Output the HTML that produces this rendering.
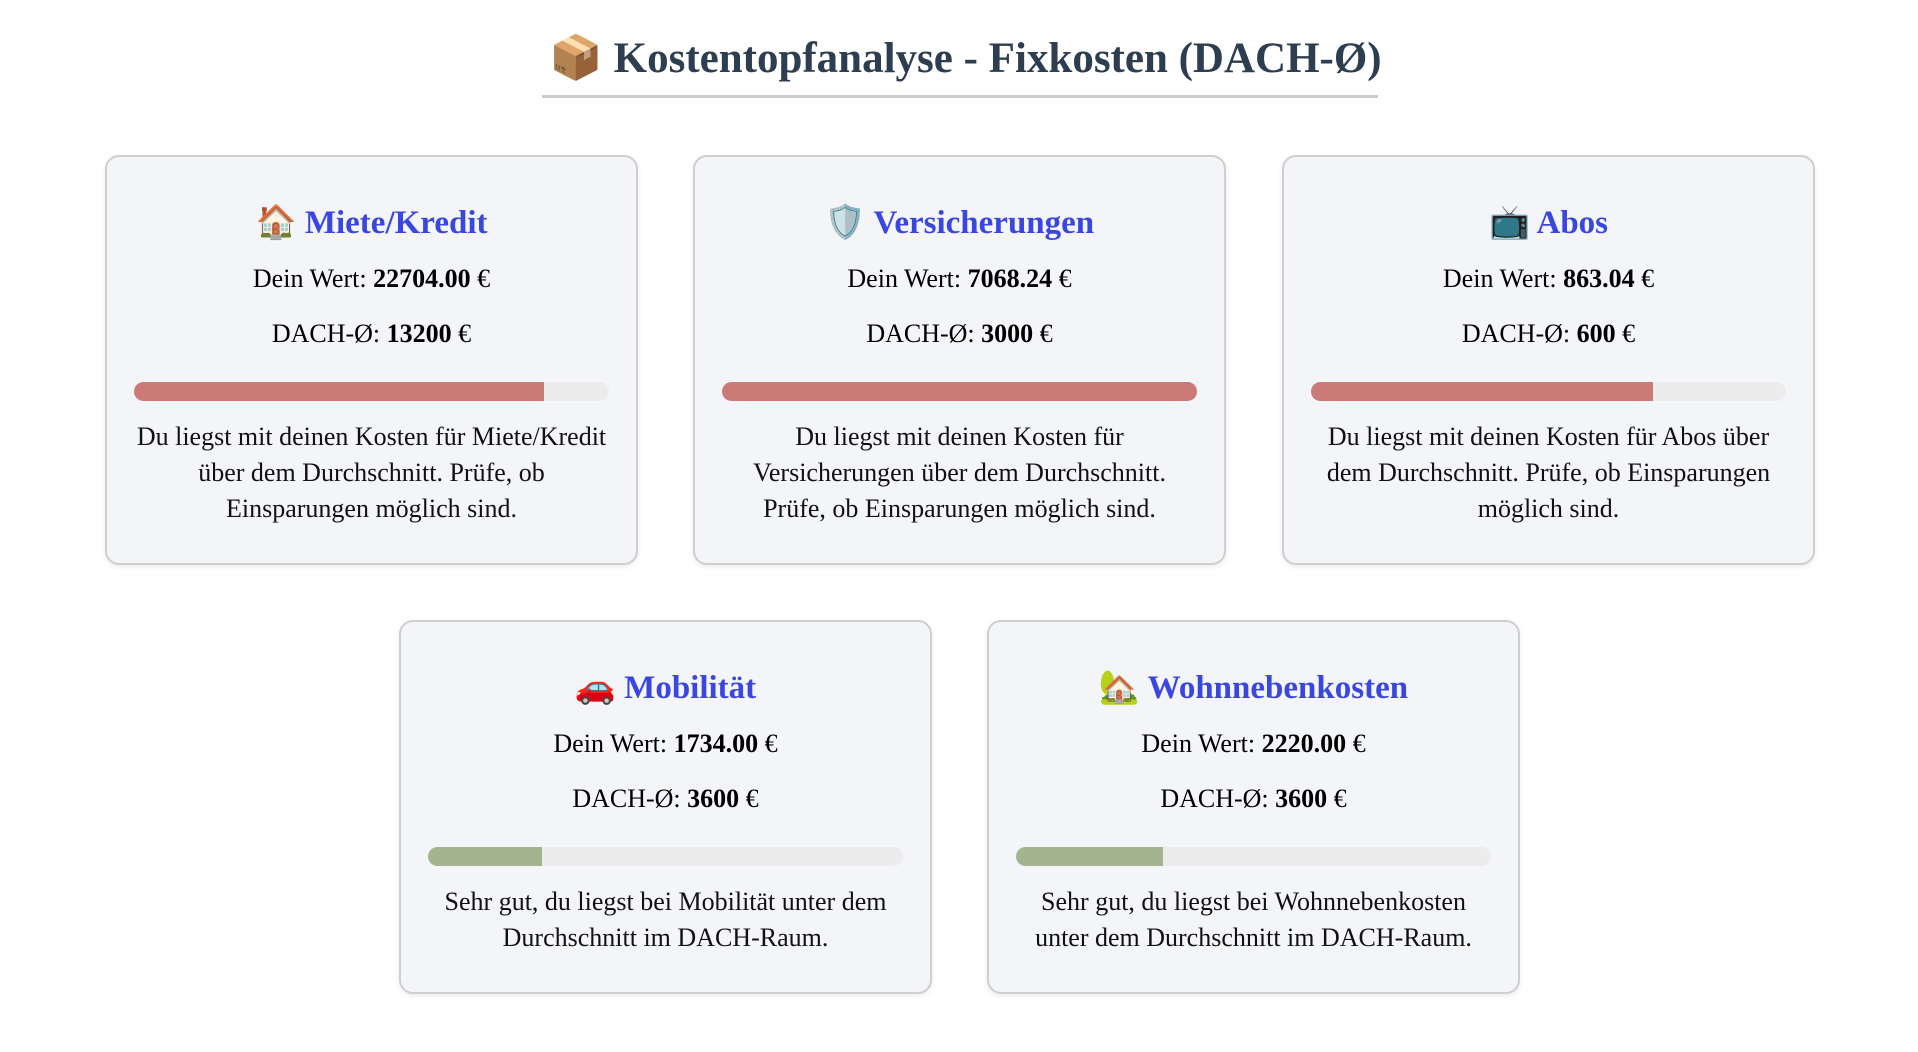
<!DOCTYPE html>
<html><head><meta charset="utf-8"><style>
body{margin:0;width:1918px;height:1052px;background:#fff;font-family:"Liberation Serif",serif;position:relative;overflow:hidden}
h1{position:absolute;left:400px;width:1131px;top:29px;margin:0;text-align:center;font-size:43px;font-weight:bold;color:#2c3e50;line-height:60px;white-space:nowrap}
.ul{position:absolute;left:542px;width:836px;top:95px;height:3px;background:#ccc}
.card{position:absolute;width:533px;background:#f4f5f9;border:2px solid #cfcfcf;border-radius:14px;box-shadow:0 2px 6px rgba(0,0,0,.08);text-align:center;box-sizing:border-box}
.t{position:absolute;left:0;right:0;top:46px;font-size:33px;font-weight:bold;color:#3a46e0;line-height:40px}
.v{position:absolute;left:0;right:0;font-size:26px;line-height:30px;color:#000}
.v1{top:107px}.v2{top:162px}
.bar{position:absolute;left:27px;right:27px;top:225px;height:19px;border-radius:10px;background:#ececec;overflow:hidden}
.f{height:100%}
.red{background:#cc7a78}.grn{background:#a3b48f}
.d{position:absolute;left:28px;right:28px;top:262px;font-size:26px;line-height:36px;color:#111}
</style></head><body>
<h1>📦 Kostentopfanalyse - Fixkosten (DACH-Ø)</h1>
<div class="ul"></div>

<div class="card" style="left:105px;top:155px;height:410px">
<div class="t">🏠 Miete/Kredit</div>
<div class="v v1">Dein Wert: <b>22704.00</b> €</div>
<div class="v v2">DACH-Ø: <b>13200</b> €</div>
<div class="bar"><div class="f red" style="width:86.3%"></div></div>
<div class="d">Du liegst mit deinen Kosten für Miete/Kredit über dem Durchschnitt. Prüfe, ob Einsparungen möglich sind.</div>
</div>

<div class="card" style="left:693px;top:155px;height:410px">
<div class="t">🛡️ Versicherungen</div>
<div class="v v1">Dein Wert: <b>7068.24</b> €</div>
<div class="v v2">DACH-Ø: <b>3000</b> €</div>
<div class="bar"><div class="f red" style="width:100%"></div></div>
<div class="d">Du liegst mit deinen Kosten für Versicherungen über dem Durchschnitt. Prüfe, ob Einsparungen möglich sind.</div>
</div>

<div class="card" style="left:1282px;top:155px;height:410px">
<div class="t">📺 Abos</div>
<div class="v v1">Dein Wert: <b>863.04</b> €</div>
<div class="v v2">DACH-Ø: <b>600</b> €</div>
<div class="bar"><div class="f red" style="width:72%"></div></div>
<div class="d">Du liegst mit deinen Kosten für Abos über dem Durchschnitt. Prüfe, ob Einsparungen möglich sind.</div>
</div>

<div class="card" style="left:399px;top:620px;height:374px">
<div class="t">🚗 Mobilität</div>
<div class="v v1">Dein Wert: <b>1734.00</b> €</div>
<div class="v v2">DACH-Ø: <b>3600</b> €</div>
<div class="bar"><div class="f grn" style="width:24%"></div></div>
<div class="d">Sehr gut, du liegst bei Mobilität unter dem Durchschnitt im DACH-Raum.</div>
</div>

<div class="card" style="left:987px;top:620px;height:374px">
<div class="t">🏡 Wohnnebenkosten</div>
<div class="v v1">Dein Wert: <b>2220.00</b> €</div>
<div class="v v2">DACH-Ø: <b>3600</b> €</div>
<div class="bar"><div class="f grn" style="width:31%"></div></div>
<div class="d">Sehr gut, du liegst bei Wohnnebenkosten unter dem Durchschnitt im DACH-Raum.</div>
</div>
</body></html>
